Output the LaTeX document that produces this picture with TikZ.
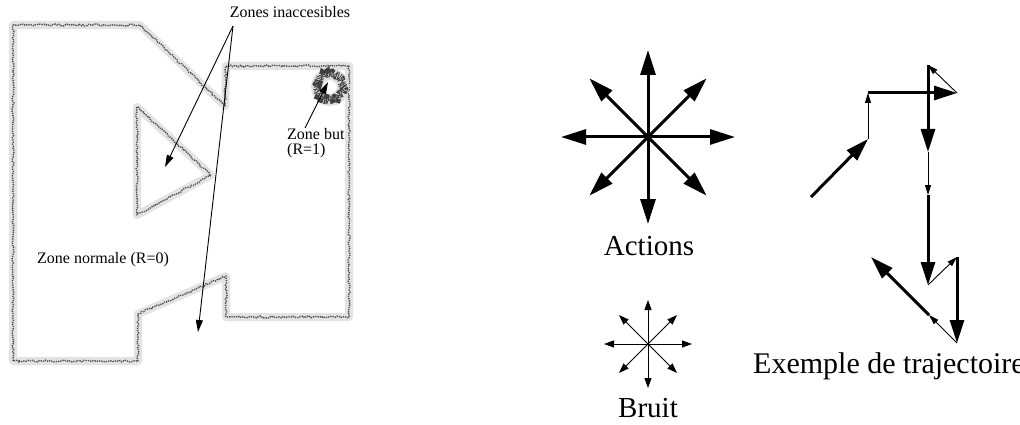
\documentclass[tikz,border=0pt]{standalone}
\usepackage{fontspec}
\setmainfont{Liberation Serif}
\usetikzlibrary{arrows.meta,decorations.pathmorphing}

\begin{document}
\begin{tikzpicture}[x=1pt, y=-1pt,
    wallhalo/.style={draw=black!11, line width=8pt, line join=round},
    wallcore/.style={draw=black!70, line width=1.4pt, dash pattern=on 1.3pt off 1pt,
      decorate, decoration={random steps, segment length=2pt, amplitude=1pt}},
    lbl/.style={font=\fontsize{16}{18}\selectfont, inner sep=0pt},
    biglbl/.style={font=\fontsize{29}{33}\selectfont, inner sep=0pt},
    ptr/.style={-{Triangle[length=12pt, width=7pt]}, line width=0.9pt},
    bigarrow/.style={-{Triangle[length=25pt, width=15pt]}, line width=3pt},
    smallarrow/.style={-{Triangle[length=10pt, width=7pt]}, line width=1pt},
    movebig/.style={-{Triangle[length=23pt, width=14pt]}, line width=3pt},
    movesmall/.style={-{Triangle[length=10pt, width=6pt]}, line width=0.9pt}
  ]
    \useasboundingbox (0,0) rectangle (1020,425);
    \pgfmathsetseed{7}

    % the maze
    \path[wallhalo, postaction={wallcore}] (13,25) -- (140,25) -- (225,106) -- (226,66)
      -- (349,66) -- (349,317) -- (226,317) -- (226,276) -- (138,314) -- (138,361)
      -- (13,361) -- cycle;
    \path[wallhalo, postaction={wallcore}] (137,107) -- (137,215) -- (211,175) -- cycle;

    % goal zone
    \node[circle, minimum size=26pt, draw=black!13, line width=12pt] (goal) at (330,87) {};
    \draw[black!75, line width=8pt, dash pattern=on 0.8pt off 1pt,
      decorate, decoration={random steps, segment length=1.5pt, amplitude=1.2pt}] (goal.center) circle (13);

    \node[lbl, anchor=base] (inacc) at (290,18) {Zones inaccesibles};
    \coordinate (inaccsrc) at (233,26);
    \coordinate (tritgt) at (165,167);
    \coordinate (gaptgt) at (198,332);
    \draw[ptr] (inaccsrc) -- (tritgt);
    \draw[ptr] (inaccsrc) -- (gaptgt);

    \node[lbl, anchor=base west] (butlbl) at (287,140) {Zone but};
    \node[lbl, anchor=base west] (butrew) at (287,155) {(R=1)};
    \coordinate (butsrc) at (305,128);
    \coordinate (buttgt) at (328,82);
    \draw[ptr] (butsrc) -- (buttgt);

    \node[lbl, anchor=base west] (normal) at (37,263) {Zone normale (R=0)};

    % actions and noise
    \coordinate (act) at (648,137);
    \foreach \a/\r in {0/87,45/83,90/87,135/83,180/87,225/83,270/87,315/83}
      \draw[bigarrow] (act) -- ++(\a:\r);
    \node[biglbl, anchor=base] (actlbl) at (649,255) {Actions};

    \coordinate (noise) at (648,344);
    \foreach \a/\r in {0/44,45/41,90/44,135/41,180/44,225/41,270/44,315/41}
      \draw[smallarrow] (noise) -- ++(\a:\r);
    \node[biglbl, anchor=base] (noiselbl) at (648,417) {Bruit};

    % trajectory
    \coordinate (t0) at (811,197);
    \coordinate (t1) at (868,139);
    \coordinate (t2) at (868,93);
    \coordinate (t3) at (957,93);
    \coordinate (t4) at (928,65);
    \coordinate (t5) at (928,152);
    \coordinate (t6) at (928,195);
    \coordinate (t7) at (928,285);
    \coordinate (t8) at (957,257);
    \coordinate (t9) at (957,343);
    \coordinate (t10) at (929,315);
    \coordinate (t11) at (871,257);
    \foreach \s/\e/\k in {t0/t1/movebig, t1/t2/movesmall, t2/t3/movebig, t3/t4/movesmall,
      t4/t5/movebig, t5/t6/movesmall, t6/t7/movebig, t7/t8/movesmall, t8/t9/movebig,
      t9/t10/movesmall, t10/t11/movebig}
      \draw[\k] (\s) -- (\e);
    \node[biglbl, anchor=base west, font=\fontsize{30}{34}\selectfont] (trajlbl) at (753,373) {Exemple de trajectoire};
\end{tikzpicture}
\end{document}
